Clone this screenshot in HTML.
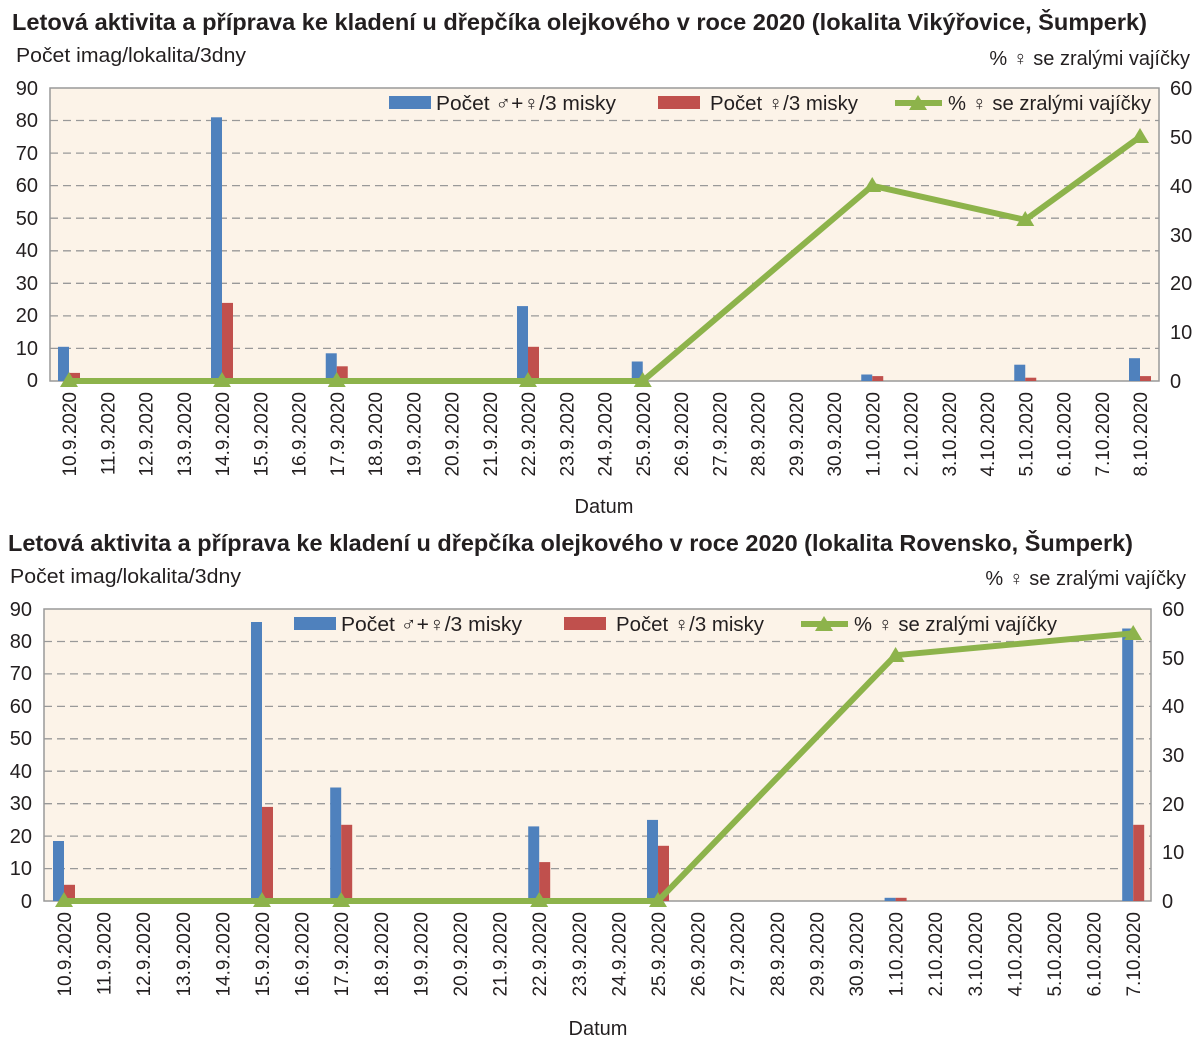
<!DOCTYPE html>
<html><head><meta charset="utf-8"><style>body{margin:0;background:#fff}svg text{font-family:"Liberation Sans","DejaVu Sans",sans-serif;fill:#231f20}</style></head><body>
<svg width="1200" height="1049" xmlns="http://www.w3.org/2000/svg">
<!-- TOP -->
<text x="12" y="30" font-size="23.3" font-weight="bold" textLength="1135" lengthAdjust="spacingAndGlyphs">Letová aktivita a příprava ke kladení u dřepčíka olejkového v roce 2020 (lokalita Vikýřovice, Šumperk)</text>
<text x="16" y="62" font-size="20" textLength="230" lengthAdjust="spacingAndGlyphs">Počet imag/lokalita/3dny</text>
<text x="1190" y="65" font-size="20" text-anchor="end">% ♀ se zralými vajíčky</text>
<rect x="50" y="88" width="1109" height="293" fill="#fcf3e8" stroke="#999" stroke-width="1.5"/>
<g stroke="#999" stroke-dasharray="8,5" stroke-width="1.3">
<line x1="50" x2="1159" y1="348.4" y2="348.4"/><line x1="50" x2="1159" y1="315.9" y2="315.9"/><line x1="50" x2="1159" y1="283.3" y2="283.3"/><line x1="50" x2="1159" y1="250.8" y2="250.8"/><line x1="50" x2="1159" y1="218.2" y2="218.2"/><line x1="50" x2="1159" y1="185.6" y2="185.6"/><line x1="50" x2="1159" y1="153.1" y2="153.1"/><line x1="50" x2="1159" y1="120.5" y2="120.5"/></g>
<g font-size="20" text-anchor="end">
<text x="38" y="387">0</text><text x="38" y="355">10</text><text x="38" y="322">20</text><text x="38" y="290">30</text><text x="38" y="257">40</text><text x="38" y="225">50</text><text x="38" y="192">60</text><text x="38" y="160">70</text><text x="38" y="127">80</text><text x="38" y="95">90</text></g>
<g font-size="20"><text x="1170" y="388">0</text><text x="1170" y="339">10</text><text x="1170" y="290">20</text><text x="1170" y="242">30</text><text x="1170" y="193">40</text><text x="1170" y="144">50</text><text x="1170" y="95">60</text></g>
<g fill="#4f81bd"><rect x="58" y="346.8" width="11" height="34.2"/><rect x="211" y="117.3" width="11" height="263.7"/><rect x="325.75" y="353.3" width="11" height="27.7"/><rect x="517" y="306.1" width="11" height="74.9"/><rect x="631.75" y="361.5" width="11" height="19.5"/><rect x="861.25" y="374.5" width="11" height="6.5"/><rect x="1014.25" y="364.7" width="11" height="16.3"/><rect x="1129" y="358.2" width="11" height="22.8"/></g>
<g fill="#c0504d"><rect x="69" y="372.9" width="11" height="8.1"/><rect x="222" y="302.9" width="11" height="78.1"/><rect x="336.75" y="366.3" width="11" height="14.7"/><rect x="528" y="346.8" width="11" height="34.2"/><rect x="872.25" y="376.1" width="11" height="4.9"/><rect x="1025.25" y="377.7" width="11" height="3.3"/><rect x="1140" y="376.1" width="11" height="4.9"/></g>
<polyline points="69,381 642.75,381 872.25,185.7 1025.25,219.9 1140,136.8" fill="none" stroke="#8db34b" stroke-width="6"/>
<g fill="#8db34b"><path d="M69,372 l9,15 h-18z"/><path d="M222,372 l9,15 h-18z"/><path d="M336.75,372 l9,15 h-18z"/><path d="M528,372 l9,15 h-18z"/><path d="M642.75,372 l9,15 h-18z"/><path d="M872.25,177 l9,15 h-18z"/><path d="M1025.25,211 l9,15 h-18z"/><path d="M1140,128 l9,15 h-18z"/></g>
<rect x="389" y="96" width="42" height="13" fill="#4f81bd"/><text x="436" y="110" font-size="20" textLength="180" lengthAdjust="spacingAndGlyphs">Počet ♂+♀/3 misky</text>
<rect x="658" y="96" width="42" height="13" fill="#c0504d"/><text x="710" y="110" font-size="20" textLength="148" lengthAdjust="spacingAndGlyphs">Počet ♀/3 misky</text>
<line x1="895" x2="942" y1="103" y2="103" stroke="#8db34b" stroke-width="6"/><path d="M918,95 l9,15 h-18z" fill="#8db34b"/><text x="948" y="110" font-size="20" textLength="203" lengthAdjust="spacingAndGlyphs">% ♀ se zralými vajíčky</text>
<g font-size="19" text-anchor="end">
<text transform="translate(76,392) rotate(-90)">10.9.2020</text><text transform="translate(114.25,392) rotate(-90)">11.9.2020</text><text transform="translate(152.5,392) rotate(-90)">12.9.2020</text><text transform="translate(190.75,392) rotate(-90)">13.9.2020</text><text transform="translate(229,392) rotate(-90)">14.9.2020</text><text transform="translate(267.25,392) rotate(-90)">15.9.2020</text><text transform="translate(305.5,392) rotate(-90)">16.9.2020</text><text transform="translate(343.75,392) rotate(-90)">17.9.2020</text><text transform="translate(382,392) rotate(-90)">18.9.2020</text><text transform="translate(420.25,392) rotate(-90)">19.9.2020</text><text transform="translate(458.5,392) rotate(-90)">20.9.2020</text><text transform="translate(496.75,392) rotate(-90)">21.9.2020</text><text transform="translate(535,392) rotate(-90)">22.9.2020</text><text transform="translate(573.25,392) rotate(-90)">23.9.2020</text><text transform="translate(611.5,392) rotate(-90)">24.9.2020</text><text transform="translate(649.75,392) rotate(-90)">25.9.2020</text><text transform="translate(688,392) rotate(-90)">26.9.2020</text><text transform="translate(726.25,392) rotate(-90)">27.9.2020</text><text transform="translate(764.5,392) rotate(-90)">28.9.2020</text><text transform="translate(802.75,392) rotate(-90)">29.9.2020</text><text transform="translate(841,392) rotate(-90)">30.9.2020</text><text transform="translate(879.25,392) rotate(-90)">1.10.2020</text><text transform="translate(917.5,392) rotate(-90)">2.10.2020</text><text transform="translate(955.75,392) rotate(-90)">3.10.2020</text><text transform="translate(994,392) rotate(-90)">4.10.2020</text><text transform="translate(1032.25,392) rotate(-90)">5.10.2020</text><text transform="translate(1070.5,392) rotate(-90)">6.10.2020</text><text transform="translate(1108.75,392) rotate(-90)">7.10.2020</text><text transform="translate(1147,392) rotate(-90)">8.10.2020</text></g>
<text x="604" y="513" font-size="20" text-anchor="middle">Datum</text>

<!-- BOTTOM -->
<text x="8" y="551" font-size="23.3" font-weight="bold" textLength="1125" lengthAdjust="spacingAndGlyphs">Letová aktivita a příprava ke kladení u dřepčíka olejkového v roce 2020 (lokalita Rovensko, Šumperk)</text>
<text x="10" y="583" font-size="20" textLength="231" lengthAdjust="spacingAndGlyphs">Počet imag/lokalita/3dny</text>
<text x="1186" y="585" font-size="20" text-anchor="end">% ♀ se zralými vajíčky</text>
<rect x="44" y="609" width="1107" height="292" fill="#fcf3e8" stroke="#999" stroke-width="1.5"/>
<g stroke="#999" stroke-dasharray="8,5" stroke-width="1.3">
<line x1="44" x2="1151" y1="868.6" y2="868.6"/><line x1="44" x2="1151" y1="836.1" y2="836.1"/><line x1="44" x2="1151" y1="803.7" y2="803.7"/><line x1="44" x2="1151" y1="771.2" y2="771.2"/><line x1="44" x2="1151" y1="738.8" y2="738.8"/><line x1="44" x2="1151" y1="706.4" y2="706.4"/><line x1="44" x2="1151" y1="673.9" y2="673.9"/><line x1="44" x2="1151" y1="641.5" y2="641.5"/></g>
<g font-size="20" text-anchor="end">
<text x="32" y="908">0</text><text x="32" y="875">10</text><text x="32" y="843">20</text><text x="32" y="810">30</text><text x="32" y="778">40</text><text x="32" y="745">50</text><text x="32" y="713">60</text><text x="32" y="680">70</text><text x="32" y="648">80</text><text x="32" y="616">90</text></g>
<g font-size="20"><text x="1162" y="908">0</text><text x="1162" y="859">10</text><text x="1162" y="811">20</text><text x="1162" y="762">30</text><text x="1162" y="713">40</text><text x="1162" y="665">50</text><text x="1162" y="616">60</text></g>
<g fill="#4f81bd"><rect x="53" y="841" width="11" height="60"/><rect x="251" y="622" width="11" height="279"/><rect x="330.2" y="787.5" width="11" height="113.5"/><rect x="528.2" y="826.4" width="11" height="74.6"/><rect x="647" y="819.9" width="11" height="81.1"/><rect x="884.6" y="897.8" width="11" height="3.2"/><rect x="1122.2" y="628.5" width="11" height="272.5"/></g>
<g fill="#c0504d"><rect x="64" y="884.8" width="11" height="16.2"/><rect x="262" y="806.9" width="11" height="94.1"/><rect x="341.2" y="824.8" width="11" height="76.2"/><rect x="539.2" y="862.1" width="11" height="38.9"/><rect x="658" y="845.8" width="11" height="55.2"/><rect x="895.6" y="897.8" width="11" height="3.2"/><rect x="1133.2" y="824.8" width="11" height="76.2"/></g>
<polyline points="64,901 658,901 895.6,655.2 1133.2,633.3" fill="none" stroke="#8db34b" stroke-width="6"/>
<g fill="#8db34b"><path d="M64,892 l9,15 h-18z"/><path d="M262,892 l9,15 h-18z"/><path d="M341.2,892 l9,15 h-18z"/><path d="M539.2,892 l9,15 h-18z"/><path d="M658,892 l9,15 h-18z"/><path d="M895.6,647 l9,15 h-18z"/><path d="M1133.2,625 l9,15 h-18z"/></g>
<rect x="294" y="617" width="42" height="13" fill="#4f81bd"/><text x="341" y="631" font-size="20" textLength="181" lengthAdjust="spacingAndGlyphs">Počet ♂+♀/3 misky</text>
<rect x="564" y="617" width="42" height="13" fill="#c0504d"/><text x="616" y="631" font-size="20" textLength="148" lengthAdjust="spacingAndGlyphs">Počet ♀/3 misky</text>
<line x1="801" x2="848" y1="624" y2="624" stroke="#8db34b" stroke-width="6"/><path d="M824,616 l9,15 h-18z" fill="#8db34b"/><text x="854" y="631" font-size="20" textLength="203" lengthAdjust="spacingAndGlyphs">% ♀ se zralými vajíčky</text>
<g font-size="19" text-anchor="end">
<text transform="translate(71,912) rotate(-90)">10.9.2020</text><text transform="translate(110.6,912) rotate(-90)">11.9.2020</text><text transform="translate(150.2,912) rotate(-90)">12.9.2020</text><text transform="translate(189.8,912) rotate(-90)">13.9.2020</text><text transform="translate(229.4,912) rotate(-90)">14.9.2020</text><text transform="translate(269,912) rotate(-90)">15.9.2020</text><text transform="translate(308.6,912) rotate(-90)">16.9.2020</text><text transform="translate(348.2,912) rotate(-90)">17.9.2020</text><text transform="translate(387.8,912) rotate(-90)">18.9.2020</text><text transform="translate(427.4,912) rotate(-90)">19.9.2020</text><text transform="translate(467,912) rotate(-90)">20.9.2020</text><text transform="translate(506.6,912) rotate(-90)">21.9.2020</text><text transform="translate(546.2,912) rotate(-90)">22.9.2020</text><text transform="translate(585.8,912) rotate(-90)">23.9.2020</text><text transform="translate(625.4,912) rotate(-90)">24.9.2020</text><text transform="translate(665,912) rotate(-90)">25.9.2020</text><text transform="translate(704.6,912) rotate(-90)">26.9.2020</text><text transform="translate(744.2,912) rotate(-90)">27.9.2020</text><text transform="translate(783.8,912) rotate(-90)">28.9.2020</text><text transform="translate(823.4,912) rotate(-90)">29.9.2020</text><text transform="translate(863,912) rotate(-90)">30.9.2020</text><text transform="translate(902.6,912) rotate(-90)">1.10.2020</text><text transform="translate(942.2,912) rotate(-90)">2.10.2020</text><text transform="translate(981.8,912) rotate(-90)">3.10.2020</text><text transform="translate(1021.4,912) rotate(-90)">4.10.2020</text><text transform="translate(1061,912) rotate(-90)">5.10.2020</text><text transform="translate(1100.6,912) rotate(-90)">6.10.2020</text><text transform="translate(1140.2,912) rotate(-90)">7.10.2020</text></g>
<text x="598" y="1035" font-size="20" text-anchor="middle">Datum</text>
</svg>
</body></html>
